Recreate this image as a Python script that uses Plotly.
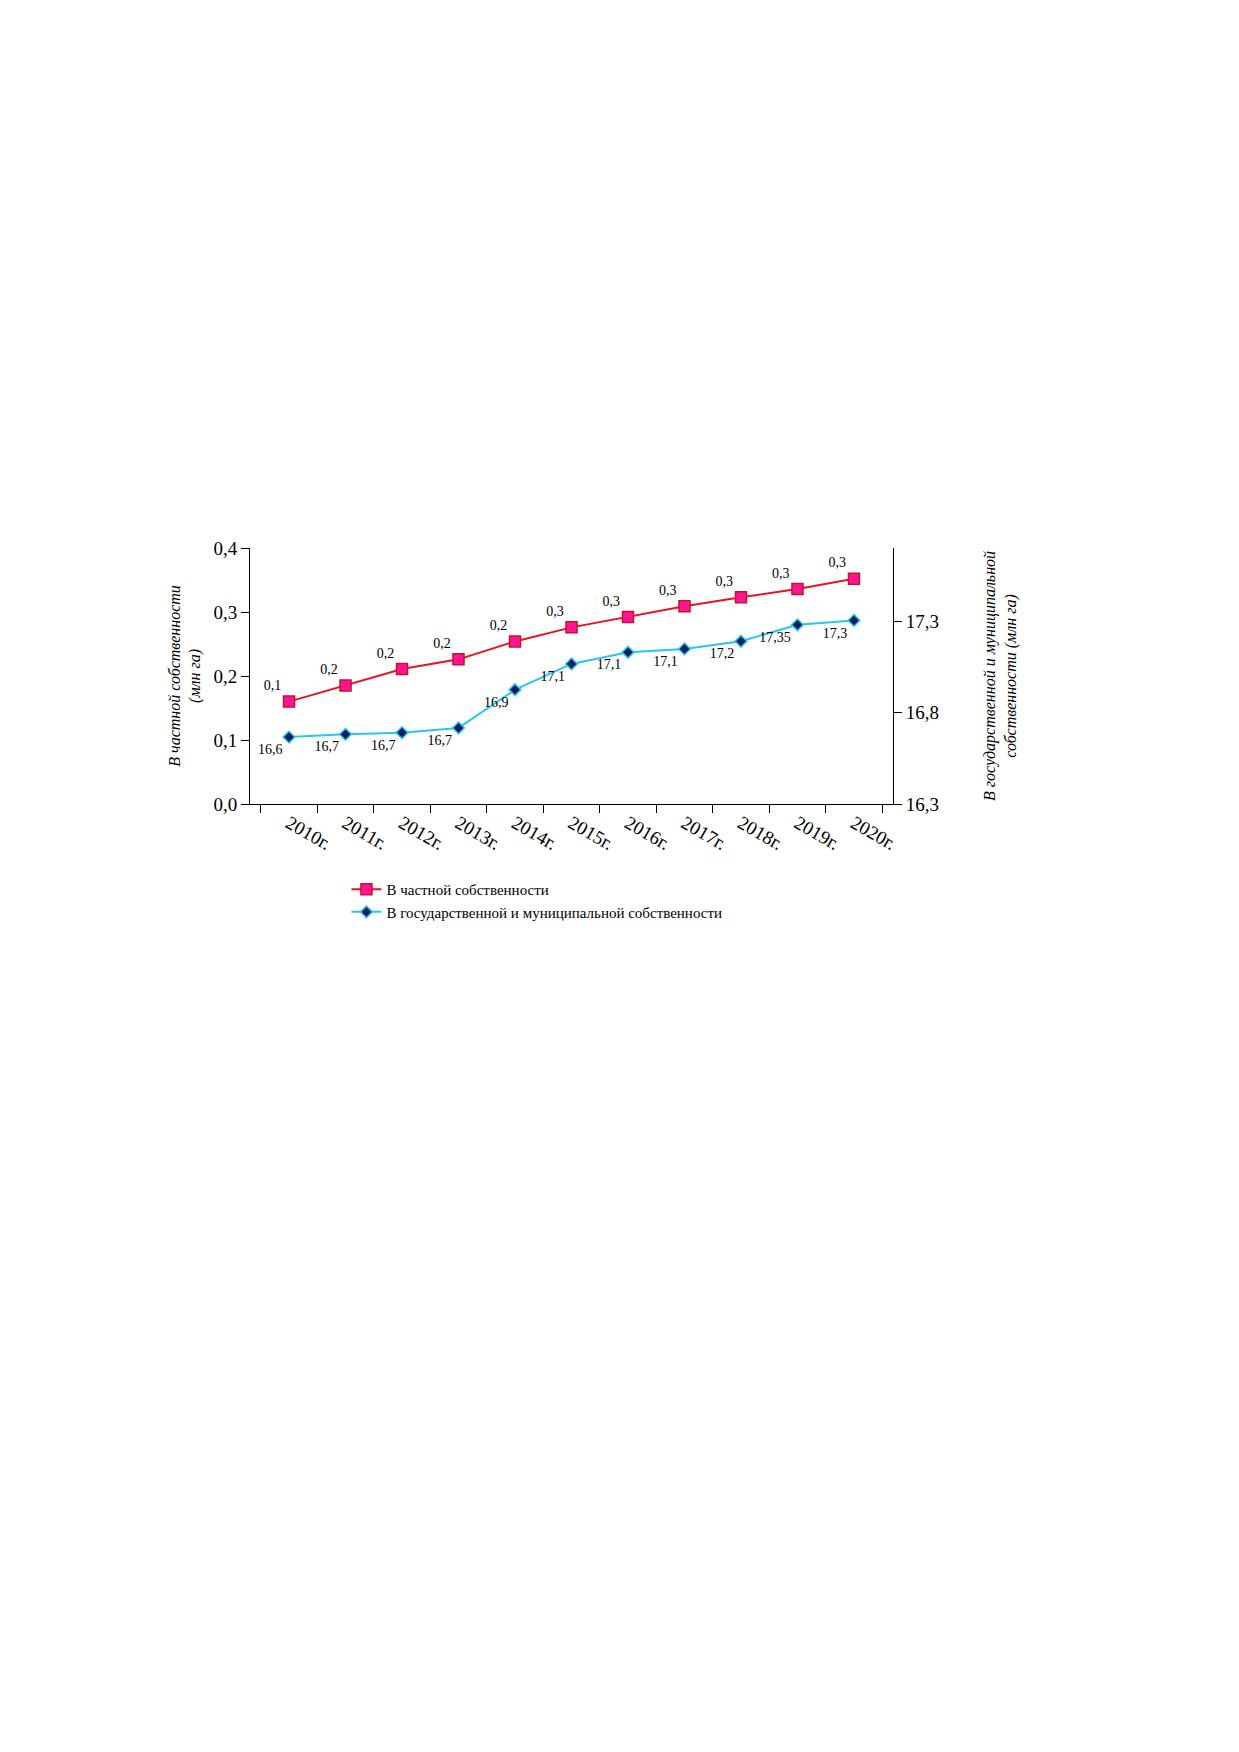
import plotly.graph_objects as go

years = ["2010г.", "2011г.", "2012г.", "2013г.", "2014г.", "2015г.", "2016г.", "2017г.", "2018г.", "2019г.", "2020г."]
private_vals = [0.160, 0.185, 0.211, 0.226, 0.254, 0.276, 0.292, 0.309, 0.323, 0.336, 0.352]
private_labels = ["0,1", "0,2", "0,2", "0,2", "0,2", "0,3", "0,3", "0,3", "0,3", "0,3", "0,3"]
state_vals = [16.666, 16.681, 16.690, 16.716, 16.925, 17.066, 17.130, 17.148, 17.190, 17.280, 17.304]
state_labels = ["16,6", "16,7", "16,7", "16,7", "16,9", "17,1", "17,1", "17,1", "17,2", "17,35", "17,3"]

FONT = "Liberation Serif"

fig = go.Figure()
fig.add_trace(go.Scatter(
    x=years, y=private_vals, name="В частной собственности",
    mode="lines+markers+text", text=private_labels, textposition="top left",
    textfont=dict(family=FONT, size=14, color="black"),
    line=dict(color="#e8141c", width=2),
    marker=dict(symbol="square", size=11, color="#ff1493", line=dict(color="#c8102e", width=1.5)),
))
fig.add_trace(go.Scatter(
    x=years, y=state_vals, name="В государственной и муниципальной собственности",
    yaxis="y2",
    mode="lines+markers+text", text=state_labels, textposition="bottom left",
    textfont=dict(family=FONT, size=14, color="black"),
    line=dict(color="#29c5f0", width=2),
    marker=dict(symbol="diamond", size=9, color="#0a1f5c", line=dict(color="#29c5f0", width=1.5)),
))

fig.update_layout(
    width=1239, height=1752,
    margin=dict(l=242, r=354, t=540, b=956),
    paper_bgcolor="white", plot_bgcolor="white",
    font=dict(family=FONT, size=19, color="black"),
    showlegend=True,
    legend=dict(x=0.15, y=-0.27, xanchor="left", yanchor="top",
                font=dict(family=FONT, size=15), tracegroupgap=4),
    xaxis=dict(type="category", tickson="boundaries", ticks="outside", ticklen=8,
               showline=True, linecolor="black", showgrid=False, tickcolor="black"),
    yaxis=dict(range=[0, 0.4], dtick=0.1, tickformat=".1f", separatethousands=False,
               ticks="outside", ticklen=8, showline=True, linecolor="black",
               showgrid=False, zeroline=False, tickcolor="black"),
    yaxis2=dict(range=[16.3, 17.7], tickvals=[16.3, 16.8, 17.3], ticktext=["16,3", "16,8", "17,3"],
                overlaying="y", side="right", ticks="outside", ticklen=8, showline=True,
                linecolor="black", showgrid=False, zeroline=False, tickcolor="black"),
    separators=", ",
)

fig.add_annotation(text="<i>В частной собственности<br>(млн га)</i>", xref="paper", yref="paper",
                   x=-0.135, y=0.5, textangle=-90, showarrow=False,
                   font=dict(family=FONT, size=16))
fig.add_annotation(text="<i>В государственной и муниципальной<br>собственности (млн га)</i>",
                   xref="paper", yref="paper", x=1.2, y=0.5, textangle=-90, showarrow=False,
                   font=dict(family=FONT, size=16))

fig.write_html("out.html")
